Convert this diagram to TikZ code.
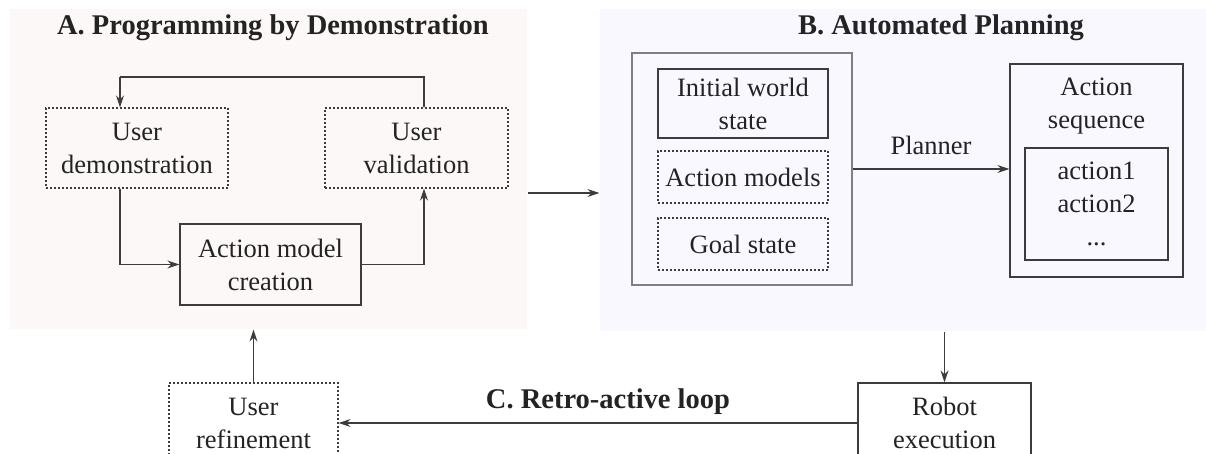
\documentclass[tikz,border=0pt]{standalone}
\usepackage{fontspec}
\setmainfont{Liberation Serif}
\usetikzlibrary{arrows.meta}
\definecolor{pinkBg}{RGB}{252,248,247}
\definecolor{blueBg}{RGB}{248,248,254}
\definecolor{lineCol}{RGB}{60,60,60}
\definecolor{textCol}{RGB}{35,35,35}
\begin{document}
\begin{tikzpicture}[x=1pt, y=-1pt, line width=1.2pt, >={Stealth[length=12pt,width=8pt]},
    every node/.style={font=\fontsize{26.5}{33}\selectfont, text=textCol, align=center, inner sep=0pt},
    panelStyle/.style={rectangle, draw=none},
    boxStyle/.style={rectangle, draw=lineCol},
    dotStyle/.style={rectangle, draw=lineCol, dash pattern=on 2pt off 2pt},
    groupStyle/.style={rectangle, draw=gray},
    titleStyle/.style={font=\fontsize{28.5}{32}\selectfont\bfseries}]
    \clip (0, 0) rectangle (1206, 454);
    \fill[white] (0, 0) rectangle (1206, 454);

    \node[panelStyle, fill=pinkBg, minimum width=517, minimum height=320] (panelA) at (268.5, 169) {};
    \node[panelStyle, fill=blueBg, minimum width=606, minimum height=322] (panelB) at (903, 170) {};
    \node[titleStyle] (titleA) at (273, 28) {A. Programming by Demonstration};
    \node[titleStyle] (titleB) at (941, 28) {B. Automated Planning};

    \node[dotStyle, minimum width=182, minimum height=80] (userDemo)  at (137, 148)   {User\\demonstration};
    \node[dotStyle, minimum width=183, minimum height=80] (userValid) at (416.5, 148) {User\\validation};
    \node[boxStyle, minimum width=181, minimum height=81] (modelCreate) at (270.5, 264.5) {Action model\\creation};

    \coordinate (loopL) at (120, 77);
    \coordinate (loopR) at (424, 77);
    \coordinate (abLevel) at (0, 193);

    \draw[draw=lineCol] (userValid.north -| loopR) -- (loopR) -- (loopL);
    \draw[draw=lineCol, ->] (loopL) -- (userDemo.north -| loopL);
    \draw[draw=lineCol, ->] (userDemo.south -| loopL) |- (modelCreate.west);
    \draw[draw=lineCol, ->] (modelCreate.east) -| (userValid.south -| loopR);
    \draw[draw=lineCol, ->] (panelA.east |- abLevel) -- (panelB.west |- abLevel);

    \node[groupStyle, minimum width=220, minimum height=232] (stateGroup) at (742, 169) {};
    \node[boxStyle, minimum width=170, minimum height=69] (initState)    at (743, 103.5) {Initial world\\state};
    \node[dotStyle, minimum width=170, minimum height=52] (actionModels) at (743, 177)   {Action models};
    \node[dotStyle, minimum width=170, minimum height=52] (goalState)    at (743, 244)   {Goal state};

    \node[boxStyle, minimum width=173, minimum height=213] (actionSeq) at (1096.5, 170.5) {};
    \node (seqLabel) at (1096.5, 106.5) {Action\\sequence};
    \node[boxStyle, minimum width=143, minimum height=112] (seqList) at (1096.5, 204) {action1\\action2\\...};

    \draw[draw=lineCol, ->] (stateGroup.east) -- (stateGroup.east -| actionSeq.west) node[midway, above=14pt] (plannerLabel) {Planner};

    \node[dotStyle, minimum width=169, minimum height=80] (userRefine) at (253.5, 423) {User\\refinement};
    \node[boxStyle, minimum width=173, minimum height=80] (robotExec)  at (944.5, 423) {Robot\\execution};

    \draw[draw=lineCol, ->] (userRefine.north) -- (userRefine.north |- panelA.south);
    \draw[draw=lineCol, ->] (robotExec.north |- panelB.south) -- (robotExec.north);
    \draw[draw=lineCol, ->] (robotExec.west) -- (userRefine.east) node[titleStyle, midway, above=8pt, xshift=10pt] (retroLabel) {C. Retro-active loop};
\end{tikzpicture}
\end{document}
